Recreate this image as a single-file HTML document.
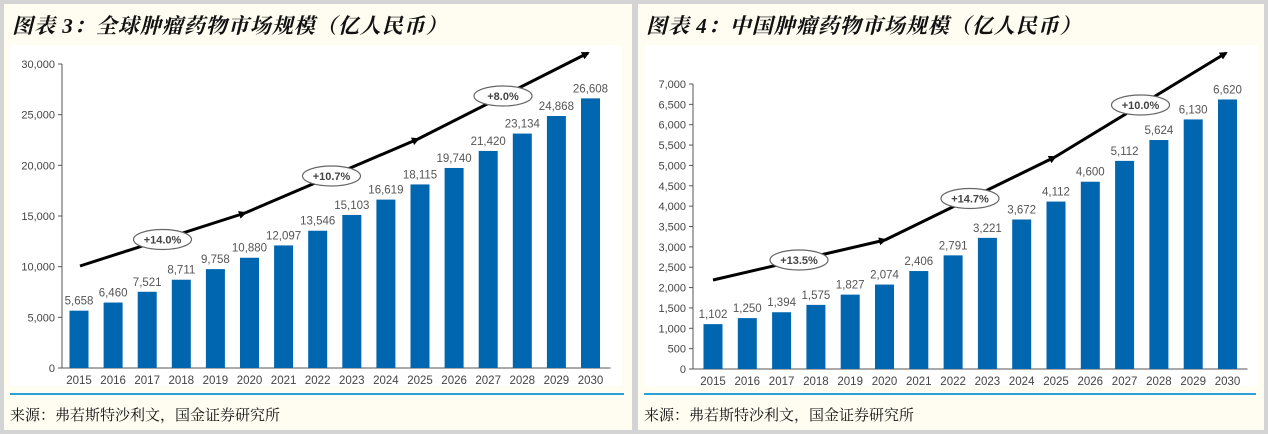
<!DOCTYPE html>
<html><head><meta charset="utf-8"><style>
body{margin:0;width:1268px;height:434px;background:#d4d4d4;overflow:hidden;font-family:"Liberation Sans","Noto Sans CJK SC",sans-serif}
.panel{position:absolute;top:4px;height:426px;background:#fffcf1}
.title{position:absolute;left:8px;top:6px;font:italic bold 21px "Liberation Serif","Noto Serif CJK SC",serif;color:#111;letter-spacing:1px}
.src{position:absolute;left:6px;top:400px;font:15px "Liberation Serif","Noto Serif CJK SC",serif;color:#111}
.rule{position:absolute;left:6px;right:8px;top:389px;height:2px;background:#2aa0da}
svg{position:absolute;left:0;top:0}
</style></head><body>
<div class="panel" style="left:4px;width:628px">
<div class="title">图表 3：全球肿瘤药物市场规模（亿人民币）</div>
<div class="rule"></div>
<div class="src">来源：弗若斯特沙利文，国金证券研究所</div>
</div>
<div class="panel" style="left:638px;width:626px">
<div class="title">图表 4：中国肿瘤药物市场规模（亿人民币）</div>
<div class="rule"></div>
<div class="src">来源：弗若斯特沙利文，国金证券研究所</div>
</div>
<svg id="s" width="1268" height="434">
<defs><marker id="ah" markerWidth="8" markerHeight="8" refX="6" refY="4" orient="auto" markerUnits="userSpaceOnUse"><path d="M0,0L8,4L0,8z" fill="#000"/></marker></defs>
</svg>
<script>
const years=["2015","2016","2017","2018","2019","2020","2021","2022","2023","2024","2025","2026","2027","2028","2029","2030"];
const globalValues=[5658,6460,7521,8711,9758,10880,12097,13546,15103,16619,18115,19740,21420,23134,24868,26608];
const chinaValues=[1102,1250,1394,1575,1827,2074,2406,2791,3221,3672,4112,4600,5112,5624,6130,6620];
const globalTicks=[0,5000,10000,15000,20000,25000,30000];
const chinaTicks=[0,500,1000,1500,2000,2500,3000,3500,4000,4500,5000,5500,6000,6500,7000];
const globalCagr=["+14.0%","+10.7%","+8.0%"];
const chinaCagr=["+13.5%","+14.7%","+10.0%"];
const S=document.getElementById('s'),NS="http://www.w3.org/2000/svg";
function el(t,a,p){const e=document.createElementNS(NS,t);for(const k in a)e.setAttribute(k,a[k]);(p||S).appendChild(e);return e;}
function fmt(v){return v.toLocaleString('en-US');}
function chart(c){
  el('rect',{x:c.px,y:45,width:c.pw,height:341,fill:'#fff'});
  const y=v=>c.y0-(v/c.max)*(c.y0-c.yT);
  const x=i=>c.x0+i*c.step;
  let a=el('line',{x1:c.ax,y1:c.yT,x2:c.ax,y2:c.y0,stroke:'#555','stroke-width':1});
  
  a=el('line',{x1:c.ax,y1:c.y0,x2:x(15)+20,y2:c.y0,stroke:'#555','stroke-width':1});
  
  c.ticks.forEach(t=>{
    el('line',{x1:c.ax-4,y1:y(t),x2:c.ax,y2:y(t),stroke:'#555'});
    const tx=el('text',{x:c.ax-7,y:y(t)+4,'text-anchor':'end','font-size':11,fill:'#444'});
    tx.textContent=fmt(t);
    
  });
  c.vals.forEach((v,i)=>{
    const r=el('rect',{x:x(i)-9.5,y:y(v),width:19,height:c.y0-y(v),fill:'#0066b0'});
    
    const t=el('text',{x:x(i),y:y(v)-6,'text-anchor':'middle','font-size':11.5,fill:'#555'});
    t.textContent=fmt(v);
    
    const l=el('text',{x:x(i),y:c.y0+16,'text-anchor':'middle','font-size':11.5,fill:'#444'});
    l.textContent=years[i];
    
  });
  const p=c.arrow;
  for(let k=0;k<3;k++){
    const ln=el('line',{x1:p[k][0],y1:p[k][1],x2:p[k+1][0],y2:p[k+1][1],stroke:'#000','stroke-width':3,'marker-end':'url(#ah)'});
    
    const mx=(p[k][0]+p[k+1][0])/2,my=(p[k][1]+p[k+1][1])/2;
    const o=el('ellipse',{cx:mx,cy:my,rx:29,ry:10,fill:'#fff',stroke:'#666','stroke-width':1.2});
    
    const t=el('text',{x:mx,y:my+4,'text-anchor':'middle','font-size':11,'font-weight':'bold',fill:'#444'});
    t.textContent=c.cagr[k];
    
  }
}
chart({px:10,pw:612,ax:62,x0:79,step:34.1,y0:368,yT:64,max:30000,ticks:globalTicks,vals:globalValues,cagr:globalCagr,
 arrow:[[80,266],[245,213],[418,139],[588,53]]});
chart({px:645,pw:613,ax:693,x0:713,step:34.3,y0:369,yT:84,max:7000,ticks:chinaTicks,vals:chinaValues,cagr:chinaCagr,
 arrow:[[713,280],[885,240],[1055,157],[1226,53]]});
</script>
</body></html>
